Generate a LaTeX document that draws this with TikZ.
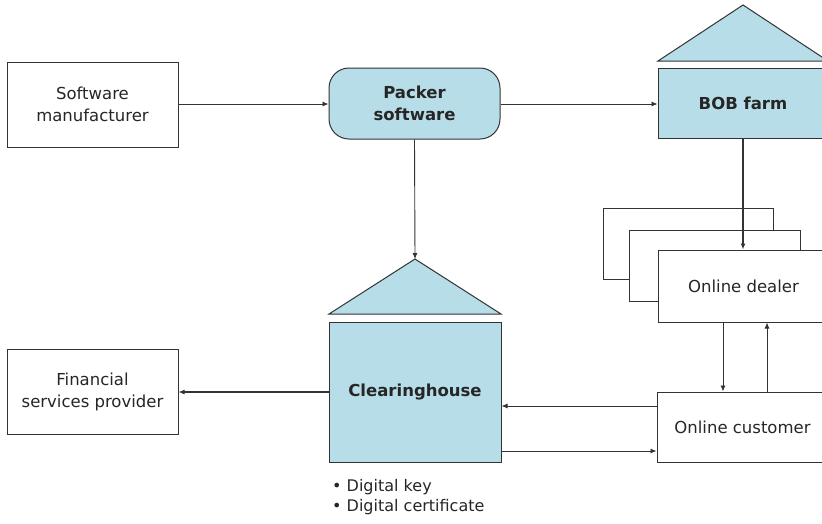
\documentclass[tikz,border=0pt]{standalone}
\usepackage{fontspec}
\setmainfont{DejaVu Sans}
\usetikzlibrary{arrows.meta}
\definecolor{boxblue}{HTML}{B7DDE8}
\definecolor{ink}{HTML}{262626}
\definecolor{edge}{HTML}{333333}
\tikzset{
  plainbox/.style={draw=edge, line width=1pt, fill=white, text=ink, align=center,
    minimum width=171pt, inner sep=0pt, font=\fontsize{16.5}{22}\selectfont},
  bluebox/.style={plainbox, fill=boxblue, font=\fontsize{16.5}{22}\selectfont\bfseries},
  roof/.style={draw=edge, line width=1pt, fill=boxblue},
  link/.style={draw=edge, line width=0.9pt, -{Latex[length=6pt,width=5pt]}},
  thicklink/.style={link, line width=1.8pt},
}
\begin{document}
\begin{tikzpicture}[x=1pt,y=-1pt]
\clip (0,0) rectangle (822,523);
\fill[white] (0,0) rectangle (822,523);
% left boxes
\node[plainbox, minimum height=85pt] (sm) at (92.5,104.5) {Software\\manufacturer};
\node[plainbox, minimum height=85pt] (fin) at (92.5,391.5) {Financial\\services provider};
% packer
\node[bluebox, minimum height=71pt, rounded corners=20pt] (pk) at (414.5,103.5) {Packer\\software};
% BOB farm
\draw[roof] (658,61) -- (743,5) -- (828,61) -- cycle;
\node[bluebox, minimum height=70pt, minimum width=170pt] (bob) at (743,103) {BOB farm};
% clearinghouse
\draw[roof] (329,314) -- (415,259) -- (501,314) -- cycle;
\coordinate (chroof) at (415,259);
\node[bluebox, minimum height=140pt, minimum width=172pt] (ch) at (415,392) {Clearinghouse};
% dealers
\node[plainbox, minimum height=71pt, minimum width=170pt] (d3) at (688,243.5) {};
\node[plainbox, minimum height=71pt] (d2) at (714.5,265.5) {};
\node[plainbox, minimum height=72pt] (dl) at (743.5,286) {Online dealer};
% customer
\node[plainbox, minimum height=70pt] (cu) at (742.5,427) {Online customer};
% bullets
\node[anchor=north west, align=left, inner sep=0pt, text=ink,
      font=\fontsize{16}{20.5}\selectfont] (notes) at (332,479) {• Digital key\\• Digital certificate};
% connectors
\draw[link] (sm.east |- 0,104) -- (pk.west |- 0,104);
\draw[link] (pk.east |- 0,104) -- (bob.west |- 0,104);
\draw[link] (pk.south) -- (chroof);
\draw[thicklink] (bob.south) -- (bob.south |- dl.north);
\draw[link] ([xshift=-20.5pt]dl.south) -- ([xshift=-20.5pt]dl.south |- cu.north);
\draw[link] ([xshift=24.5pt]cu.north) -- ([xshift=24.5pt]cu.north |- dl.south);
\draw[link] ([yshift=21pt]cu.west) -- ([yshift=21pt]cu.west -| ch.east);
\draw[link] ([yshift=-24pt]cu.west -| ch.east) -- ([yshift=-24pt]cu.west);
\draw[thicklink] (ch.west) -- (ch.west -| fin.east);
\end{tikzpicture}
\end{document}
